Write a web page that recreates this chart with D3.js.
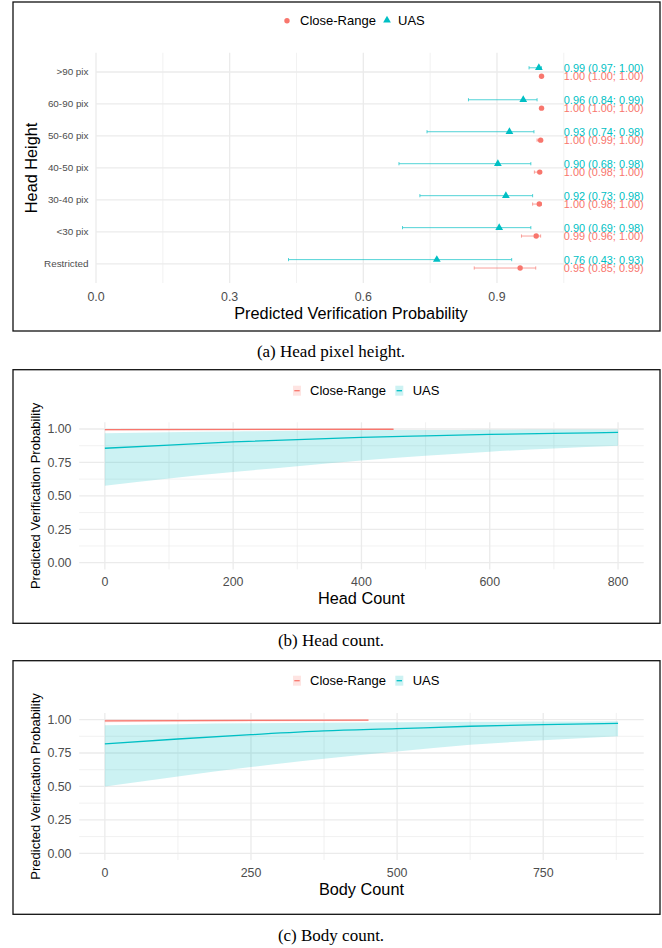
<!DOCTYPE html>
<html>
<head>
<meta charset="utf-8">
<script src="https://cdn.jsdelivr.net/npm/d3@7"></script>
<style>
  body { margin: 0; background: #fff; }
  svg { display: block; font-family: "Liberation Sans", Arial, sans-serif; }
</style>
</head>
<body>
<svg id="chart" width="662" height="948"></svg>
<script>
// colours used by ggplot's default two-group palette
const RED = "#F8766D", TEAL = "#00BFC4";

// (a) head pixel height
const rowLabels = [">90 pix", "60-90 pix", "50-60 pix", "40-50 pix", "30-40 pix", "<30 pix", "Restricted"];
const uasEst  = [0.994, 0.959, 0.928, 0.902, 0.920, 0.905, 0.765];
const uasLow  = [0.972, 0.836, 0.743, 0.680, 0.727, 0.688, 0.432];
const uasHigh = [1.000, 0.990, 0.983, 0.976, 0.980, 0.976, 0.933];
const crEst   = [1.000, 1.000, 0.998, 0.996, 0.995, 0.988, 0.952];
const crLow   = [1.000, 1.000, 0.990, 0.984, 0.980, 0.955, 0.849];
const crHigh  = [1.000, 1.000, 1.000, 1.000, 1.000, 0.998, 0.987];
const uasText = ["0.99 (0.97; 1.00)", "0.96 (0.84; 0.99)", "0.93 (0.74; 0.98)", "0.90 (0.68; 0.98)",
                 "0.92 (0.73; 0.98)", "0.90 (0.69; 0.98)", "0.76 (0.43; 0.93)"];
const crText  = ["1.00 (1.00; 1.00)", "1.00 (1.00; 1.00)", "1.00 (0.99; 1.00)", "1.00 (0.98; 1.00)",
                 "1.00 (0.98; 1.00)", "0.99 (0.96; 1.00)", "0.95 (0.85; 0.99)"];
const probTicks = [0, 0.3, 0.6, 0.9];
const probMinor = [0.15, 0.45, 0.75, 1.05];

// (b) head count
const headX       = [0, 100, 200, 300, 400, 500, 600, 700, 800];
const headUasFit  = [0.856, 0.880, 0.903, 0.921, 0.937, 0.949, 0.959, 0.967, 0.974];
const headUasLow  = [0.576, 0.630, 0.678, 0.722, 0.765, 0.800, 0.830, 0.855, 0.875];
const headUasHigh = [0.968, 0.976, 0.981, 0.986, 0.990, 0.992, 0.994, 0.996, 0.997];
const headCrX     = [0, 450];
const headCrFit   = [0.995, 0.998];
const headCrLow   = [0.986, 0.993];
const headCrHigh  = [1.000, 1.000];
const headTicks = [0, 200, 400, 600, 800];
const headMinor = [100, 300, 500, 700];

// (c) body count
const bodyX       = [0, 125, 250, 375, 500, 625, 750, 878];
const bodyUasFit  = [0.818, 0.855, 0.887, 0.915, 0.932, 0.950, 0.962, 0.972];
const bodyUasLow  = [0.500, 0.575, 0.645, 0.707, 0.762, 0.812, 0.845, 0.875];
const bodyUasHigh = [0.957, 0.966, 0.972, 0.976, 0.980, 0.983, 0.985, 0.987];
const bodyCrX     = [0, 451];
const bodyCrFit   = [0.991, 0.996];
const bodyCrLow   = [0.980, 0.990];
const bodyCrHigh  = [1.000, 1.000];
const bodyTicks = [0, 250, 500, 750];
const bodyMinor = [125, 375, 625, 875];

const probYTicks = [0, 0.25, 0.5, 0.75, 1];
const probYMinor = [0.125, 0.375, 0.625, 0.875];

const svg = d3.select("#chart");

function frame(x, y, w, h) {
    svg.append("rect").attr("x", x).attr("y", y).attr("width", w).attr("height", h)
        .attr("fill", "none").attr("stroke", "#111").attr("stroke-width", 1.3);
}

function caption(text, y) {
    svg.append("text").attr("x", 331).attr("y", y).attr("text-anchor", "middle")
        .style("font-family", "'Liberation Serif', 'Times New Roman', serif")
        .style("font-size", "17px").attr("fill", "#000").text(text);
}

// ---------- panel (a) ----------
function drawPointPanel() {
    frame(13, 2, 647, 329);
    const x = d3.scaleLinear().domain([0, 1.05]).range([96, 563.8]);
    const y = d3.scalePoint().domain(rowLabels).range([52.8, 283]).padding(0.6);
    const g = svg.append("g");

    // grid
    g.selectAll(".vmin").data(probMinor).join("line")
        .attr("x1", d => x(d)).attr("x2", d => x(d)).attr("y1", 52.8).attr("y2", 283)
        .attr("stroke", "#EBEBEB").attr("stroke-width", 0.7);
    g.selectAll(".vmaj").data(probTicks).join("line")
        .attr("x1", d => x(d)).attr("x2", d => x(d)).attr("y1", 52.8).attr("y2", 283)
        .attr("stroke", "#EBEBEB").attr("stroke-width", 1.3);
    g.selectAll(".hmaj").data(rowLabels).join("line")
        .attr("x1", 96).attr("x2", 563.8).attr("y1", d => y(d)).attr("y2", d => y(d))
        .attr("stroke", "#EBEBEB").attr("stroke-width", 1.3);

    // axes text
    g.selectAll(".xt").data(probTicks).join("text")
        .attr("x", d => x(d)).attr("y", 300.5).attr("text-anchor", "middle")
        .style("font-size", "12.4px").attr("fill", "#4D4D4D").text(d3.format(".1f"));
    g.selectAll(".yt").data(rowLabels).join("text")
        .attr("x", 88.5).attr("y", d => y(d) + 3.5).attr("text-anchor", "end")
        .style("font-size", "9.9px").attr("fill", "#4D4D4D").text(d => d);
    g.append("text").attr("x", 351).attr("y", 318.5).attr("text-anchor", "middle")
        .style("font-size", "16.3px").text("Predicted Verification Probability");
    g.append("text").attr("transform", `translate(36.5,${(52.8 + 283) / 2}) rotate(-90)`)
        .attr("text-anchor", "middle").style("font-size", "16.3px").text("Head Height");

    const off = 4.2;
    const rows = rowLabels.map((r, i) => ({ r, i }));

    // error bars
    [[uasLow, uasHigh, TEAL, -off], [crLow, crHigh, RED, off]].forEach(([lo, hi, col, dy]) => {
        const eb = g.append("g").attr("stroke", col).attr("stroke-width", 0.8).attr("opacity", 0.85);
        rows.forEach(({ r, i }) => {
            const yy = y(r) + dy;
            if (hi[i] - lo[i] < 0.001) return;
            eb.append("line").attr("x1", x(lo[i])).attr("x2", x(hi[i])).attr("y1", yy).attr("y2", yy);
            [lo[i], hi[i]].forEach(v => eb.append("line")
                .attr("x1", x(v)).attr("x2", x(v)).attr("y1", yy - 1.6).attr("y2", yy + 1.6));
        });
    });

    // points
    const tri = d3.symbol().type(d3.symbolTriangle).size(26);
    g.selectAll(".uas").data(rows).join("path")
        .attr("transform", d => `translate(${x(uasEst[d.i])},${y(d.r) - off})`)
        .attr("d", tri).attr("fill", TEAL);
    g.selectAll(".cr").data(rows).join("circle")
        .attr("cx", d => x(crEst[d.i])).attr("cy", d => y(d.r) + off).attr("r", 2.7).attr("fill", RED);

    // value labels (they overlap slightly in the original too)
    g.selectAll(".ul").data(rows).join("text")
        .attr("x", x(1.05)).attr("y", d => y(d.r) - off + 3.9)
        .style("font-size", "10.9px").attr("fill", TEAL).text(d => uasText[d.i]);
    g.selectAll(".cl").data(rows).join("text")
        .attr("x", x(1.05)).attr("y", d => y(d.r) + off + 3.9)
        .style("font-size", "10.9px").attr("fill", RED).text(d => crText[d.i]);

    // legend
    g.append("circle").attr("cx", 287).attr("cy", 20.7).attr("r", 2.7).attr("fill", RED);
    g.append("text").attr("x", 300).attr("y", 25.3).style("font-size", "13px").text("Close-Range");
    g.append("path").attr("transform", "translate(387,20.2)").attr("d", tri).attr("fill", TEAL);
    g.append("text").attr("x", 398).attr("y", 25.3).style("font-size", "13px").text("UAS");
}

// ---------- panels (b) and (c) ----------
function drawCurvePanel(opt) {
    frame(13, opt.top, 647, opt.boxH);
    const x = d3.scaleLinear().domain(opt.xDomain).range([79.2, 643.7]);
    const y = d3.scaleLinear().domain([-0.05, 1.05]).range([opt.pBottom, opt.pBottom - 147.1]);
    const g = svg.append("g");
    const [x0, x1] = x.range(), [y0, y1] = y.range();

    g.selectAll(".hmin").data(probYMinor).join("line")
        .attr("x1", x0).attr("x2", x1).attr("y1", d => y(d)).attr("y2", d => y(d))
        .attr("stroke", "#EBEBEB").attr("stroke-width", 0.7);
    g.selectAll(".vmin").data(opt.minor).join("line")
        .attr("x1", d => x(d)).attr("x2", d => x(d)).attr("y1", y1).attr("y2", y0)
        .attr("stroke", "#EBEBEB").attr("stroke-width", 0.7);
    g.selectAll(".hmaj").data(probYTicks).join("line")
        .attr("x1", x0).attr("x2", x1).attr("y1", d => y(d)).attr("y2", d => y(d))
        .attr("stroke", "#EBEBEB").attr("stroke-width", 1.3);
    g.selectAll(".vmaj").data(opt.ticks).join("line")
        .attr("x1", d => x(d)).attr("x2", d => x(d)).attr("y1", y1).attr("y2", y0)
        .attr("stroke", "#EBEBEB").attr("stroke-width", 1.3);

    g.selectAll(".xt").data(opt.ticks).join("text")
        .attr("x", d => x(d)).attr("y", y0 + 17).attr("text-anchor", "middle")
        .style("font-size", "12.4px").attr("fill", "#4D4D4D").text(d => d);
    g.selectAll(".yt").data(probYTicks).join("text")
        .attr("x", 71.5).attr("y", d => y(d) + 4.4).attr("text-anchor", "end")
        .style("font-size", "12.4px").attr("fill", "#4D4D4D").text(d3.format(".2f"));
    g.append("text").attr("x", (x0 + x1) / 2).attr("y", y0 + 35).attr("text-anchor", "middle")
        .style("font-size", "16.3px").text(opt.xTitle);
    g.append("text").attr("transform", `translate(40,${(y0 + y1) / 2}) rotate(-90)`)
        .attr("text-anchor", "middle").style("font-size", "13px").text("Predicted Verification Probability");

    const series = [
        { xs: opt.crX, fit: opt.crFit, lo: opt.crLow, hi: opt.crHigh, col: RED },
        { xs: opt.uasX, fit: opt.uasFit, lo: opt.uasLow, hi: opt.uasHigh, col: TEAL }
    ];
    series.forEach(s => {
        const pts = s.xs.map((v, i) => ({ x: v, f: s.fit[i], lo: s.lo[i], hi: s.hi[i] }));
        g.append("path").datum(pts)
            .attr("d", d3.area().curve(d3.curveMonotoneX).x(d => x(d.x)).y0(d => y(d.lo)).y1(d => y(d.hi)))
            .attr("fill", s.col).attr("fill-opacity", 0.2);
        g.append("path").datum(pts)
            .attr("d", d3.line().curve(d3.curveMonotoneX).x(d => x(d.x)).y(d => y(d.f)))
            .attr("fill", "none").attr("stroke", s.col).attr("stroke-width", 1.3);
    });

    // legend
    const ly = opt.legendY;
    [[293, RED, "Close-Range", 310], [395.3, TEAL, "UAS", 412.7]].forEach(([kx, col, label, tx]) => {
        g.append("rect").attr("x", kx).attr("y", ly - 5).attr("width", 8).attr("height", 10)
            .attr("fill", col).attr("fill-opacity", 0.2);
        g.append("line").attr("x1", kx + 1.3).attr("x2", kx + 6.7).attr("y1", ly).attr("y2", ly)
            .attr("stroke", col).attr("stroke-width", 1.3);
        g.append("text").attr("x", tx).attr("y", ly + 4.6).style("font-size", "13px").text(label);
    });
}

drawPointPanel();
caption("(a) Head pixel height.", 357);

drawCurvePanel({
    top: 369.7, boxH: 253.6, pBottom: 569.4, legendY: 390.7,
    xDomain: [-40, 840], ticks: headTicks, minor: headMinor, xTitle: "Head Count",
    uasX: headX, uasFit: headUasFit, uasLow: headUasLow, uasHigh: headUasHigh,
    crX: headCrX, crFit: headCrFit, crLow: headCrLow, crHigh: headCrHigh
});
caption("(b) Head count.", 646);

drawCurvePanel({
    top: 660.7, boxH: 253.6, pBottom: 860, legendY: 680.7,
    xDomain: [-43.9, 921.9], ticks: bodyTicks, minor: bodyMinor, xTitle: "Body Count",
    uasX: bodyX, uasFit: bodyUasFit, uasLow: bodyUasLow, uasHigh: bodyUasHigh,
    crX: bodyCrX, crFit: bodyCrFit, crLow: bodyCrLow, crHigh: bodyCrHigh
});
caption("(c) Body count.", 941);
</script>
</body>
</html>
